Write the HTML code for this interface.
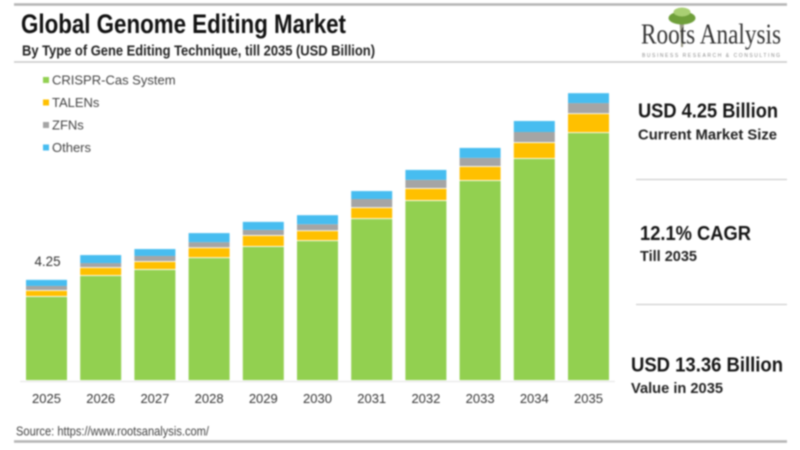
<!DOCTYPE html>
<html lang="en">
<head>
<meta charset="utf-8">
<title>Global Genome Editing Market</title>
<style>
html,body{margin:0;padding:0;background:#fff;width:800px;height:450px;overflow:hidden}
svg{display:block;filter:blur(.7px)}
text{font-family:"Liberation Sans",sans-serif}
</style>
</head>
<body>
<svg id="chart" width="800" height="450" viewBox="0 0 800 450" xmlns="http://www.w3.org/2000/svg">
  <rect width="800" height="450" fill="#fff"/>
  <line x1="14" x2="787" y1="4.5" y2="4.5" stroke="#b4b4b4" stroke-width="2.5"/>
  <line x1="14" x2="787" y1="62" y2="62" stroke="#c8c8c8" stroke-width="1.5"/>
  <line x1="14" x2="787" y1="441.5" y2="441.5" stroke="#b4b4b4" stroke-width="2.5"/>
  <text x="21" y="33" font-size="26.5" font-weight="700" fill="#111" textLength="325" lengthAdjust="spacingAndGlyphs">Global Genome Editing Market</text>
  <text x="22" y="55.5" font-size="14.5" font-weight="700" fill="#222" textLength="353" lengthAdjust="spacingAndGlyphs">By Type of Gene Editing Technique, till 2035 (USD Billion)</text>

  <g>
    <path d="M679.500 22 L684 22 L683 40 L683 47 L681 47 L681 40 Z" fill="#9a9a88"/>
    <ellipse cx="682" cy="18" rx="13.500" ry="6.500" fill="#6f9f3a"/>
    <ellipse cx="682" cy="12" rx="8.500" ry="4.500" fill="#a9cf73"/>
    <text x="641" y="43.500" font-size="28" fill="#333" textLength="140" lengthAdjust="spacingAndGlyphs" style="font-family:'Liberation Serif',serif">Roots Analysis</text>
    <text x="642" y="57" font-size="5" fill="#888" textLength="138" lengthAdjust="spacing">BUSINESS RESEARCH &amp; CONSULTING</text>
  </g>

  <g id="legend"></g>
  <line x1="20" x2="615" y1="381.5" y2="381.5" stroke="#e4e4e4" stroke-width="1"/>
  <g id="bars"></g>
  <g id="xlabels"></g>
  <text x="47.500" y="266" font-size="13.400" fill="#333" text-anchor="middle">4.25</text>

  <g>
    <text x="638" y="117.500" font-size="20" font-weight="700" fill="#151515" textLength="140" lengthAdjust="spacingAndGlyphs">USD 4.25 Billion</text>
    <text x="638" y="139.500" font-size="15" font-weight="700" fill="#222" textLength="139" lengthAdjust="spacingAndGlyphs">Current Market Size</text>
    <line x1="636" x2="787" y1="179.500" y2="179.500" stroke="#d0d0d0" stroke-width="1.2"/>
    <text x="640" y="240" font-size="20" font-weight="700" fill="#151515" textLength="111" lengthAdjust="spacingAndGlyphs">12.1% CAGR</text>
    <text x="640" y="261" font-size="14.500" font-weight="700" fill="#222" textLength="57" lengthAdjust="spacingAndGlyphs">Till 2035</text>
    <line x1="636" x2="787" y1="304.500" y2="304.500" stroke="#d0d0d0" stroke-width="1.2"/>
    <text x="631" y="371.500" font-size="20" font-weight="700" fill="#151515" textLength="152" lengthAdjust="spacingAndGlyphs">USD 13.36 Billion</text>
    <text x="631" y="393" font-size="14.500" font-weight="700" fill="#222" textLength="92" lengthAdjust="spacingAndGlyphs">Value in 2035</text>
  </g>

  <text x="16" y="435.500" font-size="12.500" fill="#444" textLength="193" lengthAdjust="spacingAndGlyphs">Source: https://www.rootsanalysis.com/</text>
</svg>
<script>
const years = ['2025','2026','2027','2028','2029','2030','2031','2032','2033','2034','2035'];
const crisprValues = [3.90,4.87,5.15,5.70,6.22,6.49,7.51,8.35,9.28,10.30,11.50];
const talensValues = [0.28,0.37,0.37,0.46,0.51,0.46,0.51,0.56,0.65,0.74,0.88];
const zfnsValues = [0.23,0.23,0.28,0.28,0.28,0.32,0.42,0.42,0.42,0.51,0.51];
const othersValues = [0.28,0.37,0.32,0.42,0.37,0.42,0.37,0.46,0.46,0.51,0.46];
const seriesNames = ['CRISPR-Cas System','TALENs','ZFNs','Others'];
const seriesColors = ['#92d050','#ffc000','#a5a5a5','#47bdf0'];
const seriesValues = [crisprValues,talensValues,zfnsValues,othersValues];

const NS = 'http://www.w3.org/2000/svg';
const baseY = 381;
const unitPx = 21.56;
const firstCenter = 46.5;
const pitch = 54.2;
const barWidth = 41;
function xScale(i){ return firstCenter + pitch * i; }
function yScale(v){ return baseY - v * unitPx; }

const barsGroup = document.getElementById('bars');
const labelGroup = document.getElementById('xlabels');
const legendGroup = document.getElementById('legend');

years.forEach(function(year, i){
  let cumulative = 0;
  seriesValues.forEach(function(values, s){
    const y0 = yScale(cumulative);
    cumulative += values[i];
    const y1 = yScale(cumulative);
    const rect = document.createElementNS(NS, 'rect');
    
    
    rect.setAttribute('x', xScale(i) - barWidth / 2);
    rect.setAttribute('y', y1);
    rect.setAttribute('width', barWidth);
    rect.setAttribute('height', Math.max(0, y0 - y1 - (s === 3 ? 0 : 0.9)));
    rect.setAttribute('fill', seriesColors[s]);
    barsGroup.appendChild(rect);
  });
  const label = document.createElementNS(NS, 'text');
  
  
  label.setAttribute('x', xScale(i));
  label.setAttribute('y', 403);
  label.setAttribute('font-size', '13');
  label.setAttribute('fill', '#333');
  label.setAttribute('text-anchor', 'middle');
  label.textContent = year;
  labelGroup.appendChild(label);
});

seriesNames.forEach(function(name, s){
  const cy = 80 + s * 22.5;
  const swatch = document.createElementNS(NS, 'rect');
  
  
  swatch.setAttribute('x', 43);
  swatch.setAttribute('y', cy - 3);
  swatch.setAttribute('width', 6);
  swatch.setAttribute('height', 6);
  swatch.setAttribute('fill', seriesColors[s]);
  legendGroup.appendChild(swatch);
  const entry = document.createElementNS(NS, 'text');
  
  
  entry.setAttribute('x', 52);
  entry.setAttribute('y', cy + 4.5);
  entry.setAttribute('font-size', '13');
  entry.setAttribute('fill', '#444');
  entry.textContent = name;
  legendGroup.appendChild(entry);
});
</script>
</body>
</html>
